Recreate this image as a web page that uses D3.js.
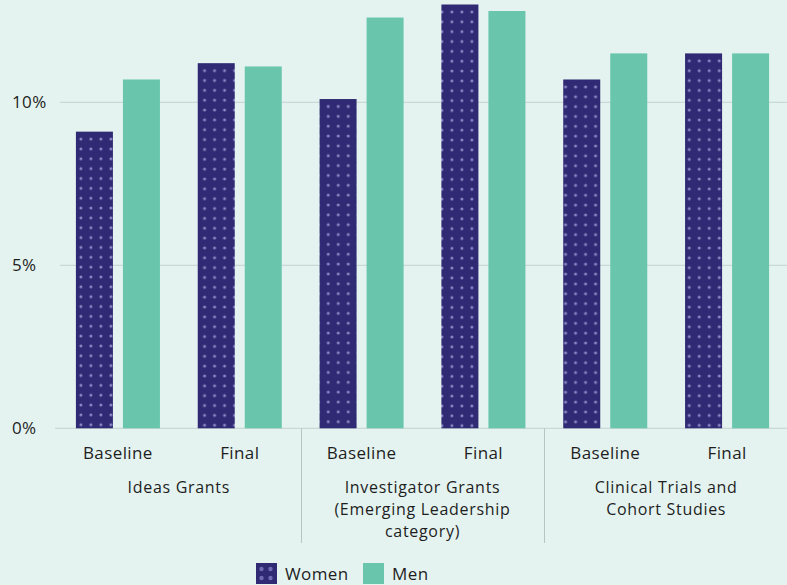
<html>
<script src="https://d3js.org/d3.v7.min.js"></script>
<style>
    body { margin: 0; background: #e4f3f0; }
    text { font-family: "Open Sans", sans-serif; fill: #1e1e1e; letter-spacing: 0.4px; }
    text.group { letter-spacing: 0.7px; }
</style>

<body>
    <script>
        var width = 787;
        var height = 585;

        // data (percent)
        var groups = ["Ideas Grants", "Investigator Grants (Emerging Leadership category)", "Clinical Trials and Cohort Studies"];
        var groupLines = [["Ideas Grants"], ["Investigator Grants", "(Emerging Leadership", "category)"], ["Clinical Trials and", "Cohort Studies"]];
        var stages = ["Baseline", "Final"];
        var series = ["Women", "Men"];
        var women = [9.1, 11.2, 10.1, 13.0, 10.7, 11.5];
        var men = [10.7, 11.1, 12.6, 12.8, 11.5, 11.5];
        var yTicks = [0, 5, 10];

        var colors = { "Women": "#2f2a73", "Men": "#69c6ad" };
        var fs = 17;

        var svg = d3.select("body").append("svg")
            .attr("width", width)
            .attr("height", height);

        svg.append("rect").attr("width", width).attr("height", height).attr("fill", "#e4f3f0");

        var cells = [];
        groups.forEach((g, gi) => {
            stages.forEach((s, si) => {
                var i = gi * 2 + si;
                cells.push({ key: i, group: gi, stage: s, Women: women[i], Men: men[i] });
            });
        });

        var x0 = d3.scaleBand().domain(cells.map(d => d.key)).range([57, 788]);
        var x1 = d3.scaleBand().domain(series).range([0, x0.bandwidth()])
            .paddingInner(0.2128).paddingOuter(0.402);
        var y = d3.scaleLinear().domain([0, 13]).range([428.3, 4.5]);

        // gridlines
        svg.selectAll(".grid").data(yTicks).enter().append("line")
            .attr("class", "grid")
            .attr("x1", d => d === 0 ? 55 : 60)
            .attr("x2", width)
            .attr("y1", d => y(d)).attr("y2", d => y(d))
            .attr("stroke", "#c4d3cf").attr("stroke-width", 1);

        svg.selectAll(".ytick").data(yTicks).enter().append("text")
            .attr("class", "ytick")
            .attr("x", 12)
            .attr("y", d => y(d))
            .attr("dy", "0.35em")
            .attr("font-size", fs)
            .text(d => d + "%");

        var defs = svg.append("defs");

        // one dot pattern per women bar, anchored at the bar's top-left corner
        cells.forEach(c => {
            var bx = x0(c.key) + x1("Women");
            var by = y(c.Women);
            var p = defs.append("pattern")
                .attr("id", "dots" + c.key)
                .attr("patternUnits", "userSpaceOnUse")
                .attr("x", bx + 3).attr("y", by + 2.5)
                .attr("width", 10).attr("height", 9.85);
            p.append("rect").attr("width", 10).attr("height", 9.85).attr("fill", colors.Women);
            p.append("circle").attr("cx", 5).attr("cy", 5).attr("r", 1.5).attr("fill", "#8c88c6");
        });

        var cellG = svg.selectAll(".cell").data(cells).enter().append("g")
            .attr("class", "cell")
            .attr("transform", d => `translate(${x0(d.key)},0)`);

        cellG.selectAll("rect").data(d => series.map(s => ({ key: d.key, s: s, v: d[s] })))
            .enter().append("rect")
            .attr("x", d => x1(d.s))
            .attr("width", x1.bandwidth())
            .attr("y", d => y(d.v))
            .attr("height", d => y(0) - y(d.v))
            .attr("fill", d => d.s === "Women" ? `url(#dots${d.key})` : colors.Men);

        cellG.append("text")
            .attr("x", x0.bandwidth() / 2)
            .attr("y", 459)
            .attr("text-anchor", "middle")
            .attr("font-size", fs)
            .text(d => d.stage);

        // group labels and separators
        groupLines.forEach((lines, gi) => {
            var cx = x0(gi * 2 + 1);
            lines.forEach((l, li) => {
                svg.append("text")
                    .attr("class", "group")
                    .attr("x", cx)
                    .attr("y", 492.5 + li * 22)
                    .attr("text-anchor", "middle")
                    .attr("font-size", 16)
                    .text(l);
            });
            if (gi > 0) {
                var sx = Math.round(x0(gi * 2)) + 0.5;
                svg.append("line")
                    .attr("x1", sx).attr("x2", sx)
                    .attr("y1", y(0)).attr("y2", 543)
                    .attr("stroke", "#b9c4c1").attr("stroke-width", 1);
            }
        });

        // legend
        var legendX = [256, 363];
        var legend = svg.selectAll(".legend").data(series).enter().append("g")
            .attr("class", "legend")
            .attr("transform", (d, i) => `translate(${legendX[i]},563)`);

        legend.append("rect")
            .attr("width", 21).attr("height", 21)
            .attr("fill", d => colors[d]);

        legend.filter(d => d === "Women").selectAll("circle")
            .data([[5.5, 6], [14.5, 6], [5.5, 15], [14.5, 15]])
            .enter().append("circle")
            .attr("cx", d => d[0]).attr("cy", d => d[1])
            .attr("r", 2.2).attr("fill", "#6f6bb0");

        legend.append("text")
            .attr("x", 29)
            .attr("y", 11)
            .attr("dy", "0.35em")
            .attr("font-size", fs)
            .text(d => d);
    </script>
</body>

</html>
